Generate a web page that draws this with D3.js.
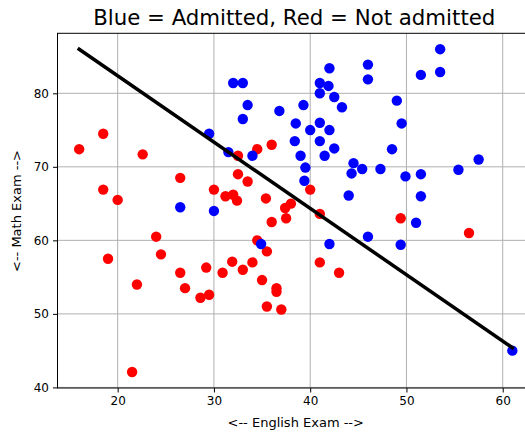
<!DOCTYPE html>
<html>
<head>
<meta charset="utf-8">
<script src="https://cdn.jsdelivr.net/npm/d3@7"></script>
<style>
  html, body { margin: 0; padding: 0; background: #fff; }
  svg { display: block; }
  text { font-family: "DejaVu Sans", sans-serif; fill: #000; }
</style>
</head>
<body>
<svg id="chart" width="525" height="432"></svg>
<script>
// ---- data ----
const titleText = "Blue = Admitted, Red = Not admitted";
const xLabel = "<-- English Exam -->";
const yLabel = "<-- Math Exam -->";
const xTicks = [20, 30, 40, 50, 60];
const yTicks = [40, 50, 60, 70, 80];

const admittedX = [29.5, 31.5, 32.0, 33.0, 33.5, 33.0, 34.0, 26.5, 30.0, 34.9,
  36.8, 39.3, 38.5, 40.0, 38.4, 39.0, 39.5, 39.4, 41.0, 42.0,
  41.9, 41.0, 42.5, 43.3, 41.0, 42.0, 41.0, 42.5, 41.5, 46.0,
  46.0, 49.0, 49.5, 48.5, 44.5, 44.3, 45.4, 47.3, 44.0, 49.9,
  51.5, 51.5, 55.4, 57.5, 51.5, 53.5, 53.5, 42.0, 46.0, 49.4,
  51.0, 61.0];
const admittedY = [74.5, 72.0, 81.4, 81.4, 78.4, 76.5, 71.5, 64.5, 64.0, 59.5,
  77.6, 78.4, 75.9, 75.0, 73.5, 71.5, 69.9, 68.1, 81.4, 83.4,
  81.0, 80.0, 79.5, 78.1, 76.0, 75.0, 73.5, 72.5, 71.5, 83.9,
  81.9, 79.0, 75.9, 72.4, 70.5, 69.1, 69.7, 69.7, 66.1, 68.7,
  69.0, 66.0, 69.6, 71.0, 82.5, 86.0, 82.9, 59.5, 60.5, 59.4,
  62.4, 45.0];

const rejectedX = [16.0, 18.5, 22.6, 18.5, 20.0, 26.5, 32.5, 32.5, 30.0, 31.2,
  32.0, 32.4, 33.5, 34.5, 36.0, 35.4, 40.0, 37.4, 38.0, 37.5,
  36.0, 41.0, 24.0, 19.0, 24.5, 22.0, 26.5, 27.0, 29.2, 28.6,
  29.5, 30.9, 31.9, 33.0, 21.5, 34.5, 35.5, 34.0, 35.0, 36.5,
  36.5, 35.5, 37.0, 41.0, 43.0, 49.4, 56.5];
const rejectedY = [72.4, 74.5, 71.7, 66.9, 65.5, 68.5, 71.5, 69.0, 66.9, 66.0,
  66.2, 65.4, 68.0, 72.4, 73.0, 65.7, 66.9, 64.4, 65.0, 63.0,
  62.5, 63.6, 60.5, 57.5, 58.1, 54.0, 55.6, 53.5, 56.3, 52.2,
  52.6, 55.6, 57.1, 56.0, 42.1, 60.0, 58.5, 57.0, 54.6, 53.5,
  53.0, 51.0, 50.6, 57.0, 55.6, 63.0, 61.0];

const boundaryX = [16.0, 61.0];
const boundaryY = [86.0, 45.4];

// ---- layout ----
const svg = d3.select("#chart");
const mLeft = 57.5, mRight = 534, mTop = 33.3, mBottom = 388;
const x = d3.scaleLinear().domain([13.75, 63.25]).range([mLeft, mRight]);
const y = d3.scaleLinear().domain([39.92, 88.16]).range([mBottom, mTop]);

// grid
const grid = svg.append("g");
grid.selectAll("line.gx").data(xTicks).join("line")
  .attr("x1", d => x(d)).attr("x2", d => x(d))
  .attr("y1", mTop).attr("y2", mBottom)
  .attr("stroke", "#b0b0b0").attr("stroke-width", 1);
grid.selectAll("line.gy").data(yTicks).join("line")
  .attr("x1", mLeft).attr("x2", mRight)
  .attr("y1", d => y(d)).attr("y2", d => y(d))
  .attr("stroke", "#b0b0b0").attr("stroke-width", 1);

// axes
const xAxis = d3.axisBottom(x).tickValues(xTicks).tickSize(4.5).tickPadding(4).tickFormat(d3.format("d"));
const yAxis = d3.axisLeft(y).tickValues(yTicks).tickSize(4.5).tickPadding(4).tickFormat(d3.format("d"));
const gx = svg.append("g").attr("transform", `translate(0,${mBottom})`).call(xAxis);
const gy = svg.append("g").attr("transform", `translate(${mLeft},0)`).call(yAxis);
[gx, gy].forEach(g => {
  g.select(".domain").remove();
  g.selectAll(".tick line").attr("stroke", "#000").attr("stroke-width", 1);
  g.selectAll(".tick text").attr("font-family", "DejaVu Sans").attr("font-size", 12).attr("fill", "#222");
});

// points
svg.append("g").selectAll("circle").data(rejectedX.map((v, i) => [v, rejectedY[i]])).join("circle")
  .attr("cx", d => x(d[0])).attr("cy", d => y(d[1])).attr("r", 5.2).attr("fill", "#ff0000");
svg.append("g").selectAll("circle").data(admittedX.map((v, i) => [v, admittedY[i]])).join("circle")
  .attr("cx", d => x(d[0])).attr("cy", d => y(d[1])).attr("r", 5.2).attr("fill", "#0000ff");

// boundary line
const lineGen = d3.line().x(d => x(d[0])).y(d => y(d[1]));
svg.append("path").datum(boundaryX.map((v, i) => [v, boundaryY[i]]))
  .attr("d", lineGen).attr("fill", "none").attr("stroke", "#000").attr("stroke-width", 3.5)
  .attr("stroke-linecap", "square");

// spines
svg.append("rect").attr("x", mLeft).attr("y", mTop).attr("width", mRight - mLeft).attr("height", mBottom - mTop)
  .attr("fill", "none").attr("stroke", "#000").attr("stroke-width", 1);

// title & labels
svg.append("text").attr("x", (mLeft + mRight) / 2 - 1.5).attr("y", 25).attr("text-anchor", "middle")
  .attr("font-size", 21.3).text(titleText);
svg.append("text").attr("x", (mLeft + mRight) / 2).attr("y", 426.5).attr("text-anchor", "middle")
  .attr("font-size", 13).attr("fill", "#222").text(xLabel);
svg.append("text").attr("transform", "translate(21,211) rotate(-90)").attr("text-anchor", "middle")
  .attr("font-size", 13).attr("fill", "#222").text(yLabel);
</script>
</body>
</html>
